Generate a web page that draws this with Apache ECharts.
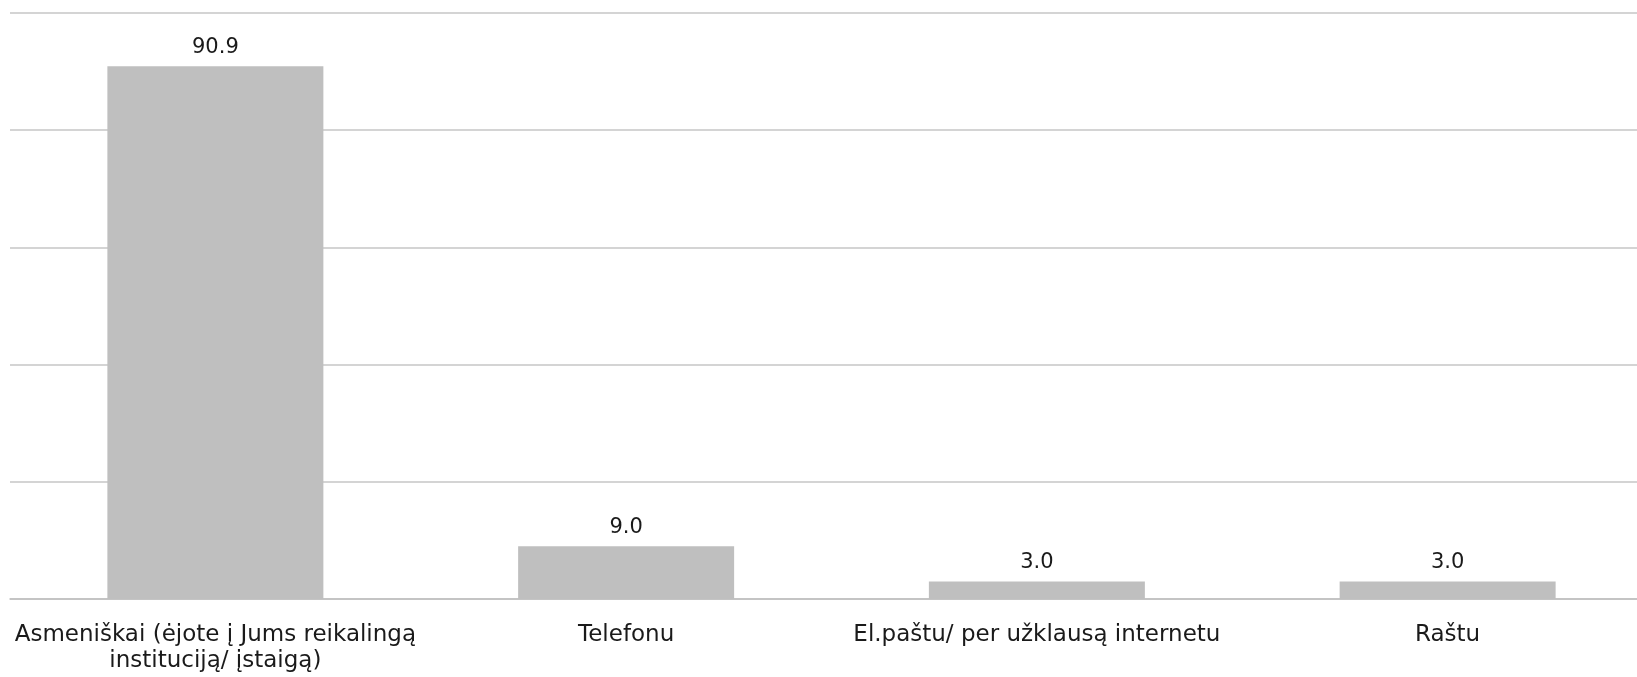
<!DOCTYPE html>
<html>
<head>
<meta charset="utf-8">
<style>
  html, body { margin: 0; padding: 0; background: #ffffff; }
  #chart { width: 1637px; height: 677px; }
</style>
<script src="https://cdn.jsdelivr.net/npm/echarts@6/dist/echarts.min.js"></script>
</head>
<body>
<div id="chart"></div>
<script>
// Ways of contacting an institution (%)
const categories = [
  'Asmeniškai (ėjote į Jums reikalingą\ninstituciją/ įstaigą)',
  'Telefonu',
  'El.paštu/ per užklausą internetu',
  'Raštu'
];
const values = [90.9, 9.0, 3.0, 3.0];

const FONT = '"DejaVu Sans", Verdana, sans-serif';

const chart = echarts.init(document.getElementById('chart'));
chart.setOption({
  animation: false,
  textStyle: { fontFamily: FONT },
  grid: {
    left: 10, width: 1643, top: 13, bottom: 78,
    containLabel: false,
    outerBoundsMode: 'none'
  },
  xAxis: {
    type: 'category',
    data: categories,
    axisLine: { show: true, lineStyle: { color: '#bfbfbf', width: 1.5 } },
    axisTick: { show: false },
    axisLabel: {
      color: '#1a1a1a',
      fontFamily: FONT,
      fontSize: 23,
      lineHeight: 26,
      margin: 23,
      interval: 0
    }
  },
  yAxis: {
    type: 'value',
    min: 0,
    max: 100,
    interval: 20,
    axisLabel: { show: false },
    axisLine: { show: false },
    axisTick: { show: false },
    splitLine: { lineStyle: { color: '#c6c6c6', width: 1.5 } }
  },
  series: [{
    type: 'bar',
    data: values,
    barWidth: 216,
    itemStyle: { color: '#bfbfbf' },
    label: {
      show: true,
      position: 'top',
      distance: 8,
      color: '#1a1a1a',
      fontFamily: FONT,
      fontSize: 21,
      formatter: p => p.value.toFixed(1)
    }
  }]
});
</script>
</body>
</html>
